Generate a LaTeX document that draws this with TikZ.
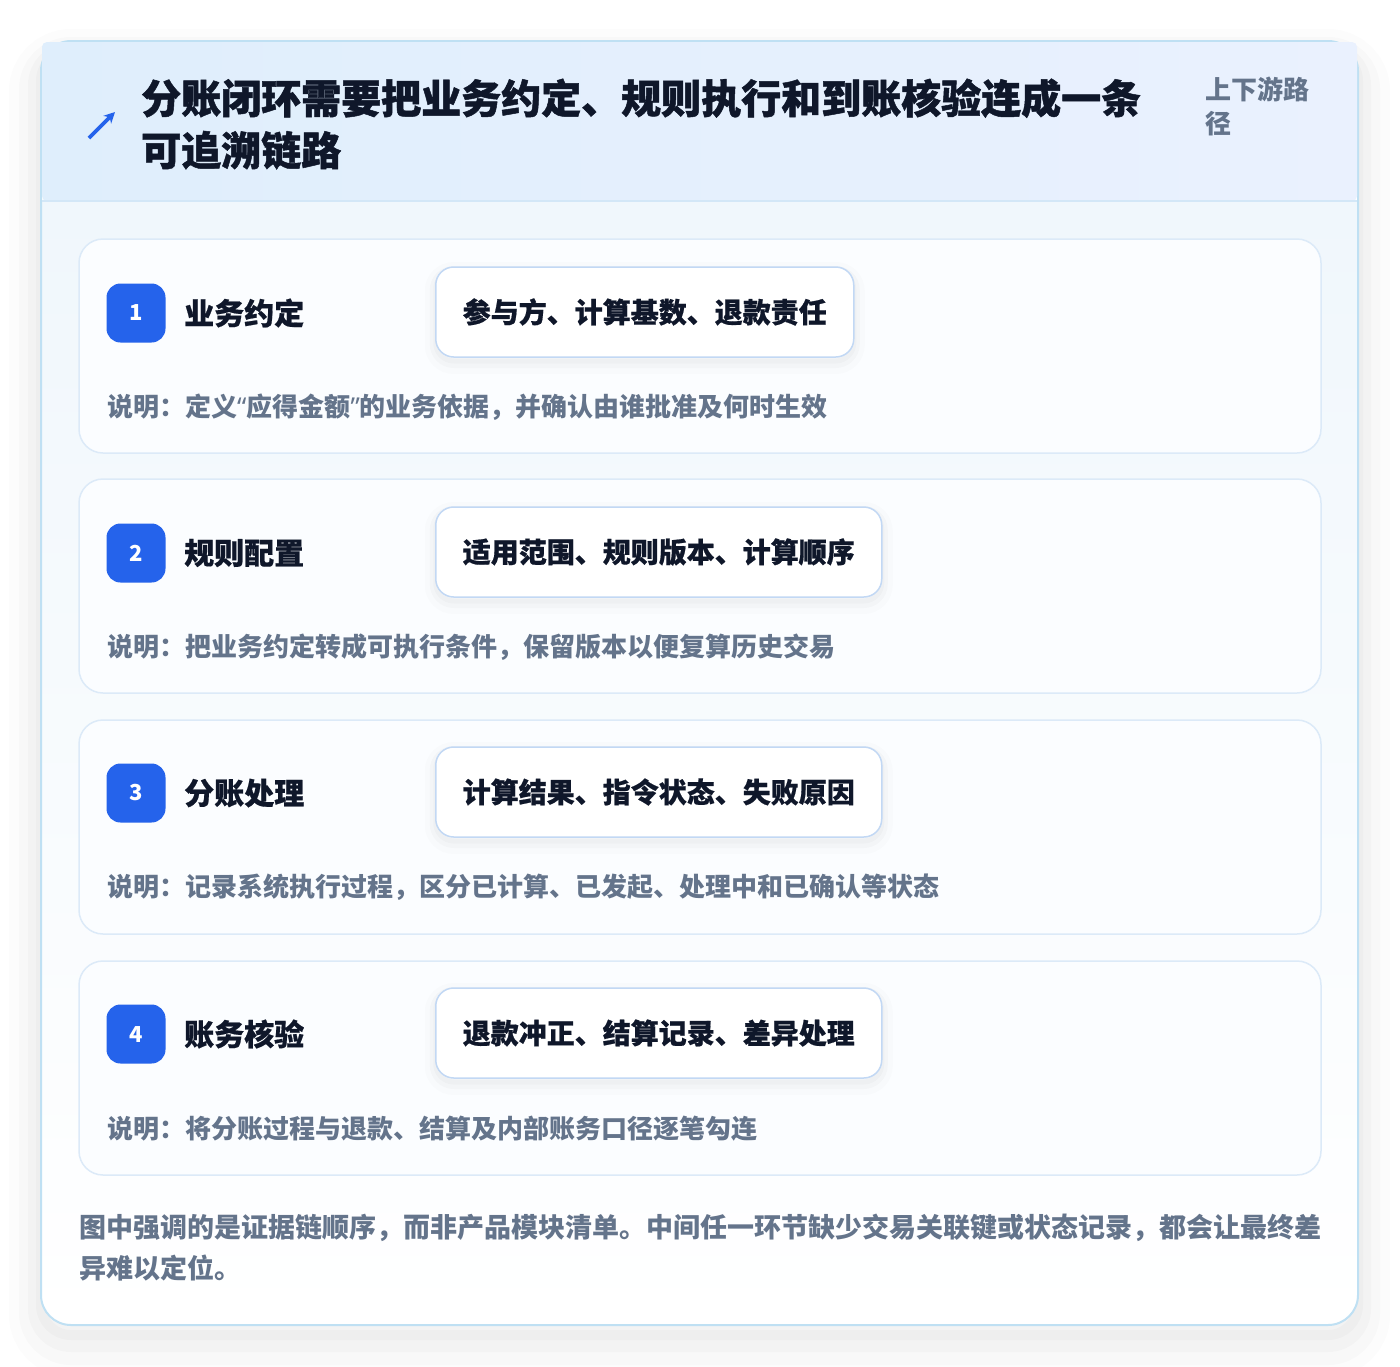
\documentclass[tikz,border=0pt]{standalone}
\usepackage{fontspec}
\setmainfont{Noto Sans CJK SC}
\newfontfamily\heavyfont{Noto Sans CJK SC}[BoldFeatures={FakeBold=1.2}]
\newfontfamily\semiheavy{Noto Sans CJK SC}[BoldFeatures={FakeBold=0.6}]
\newfontfamily\quotefont{Noto Sans}
\usetikzlibrary{shadows,arrows.meta}
\definecolor{ink}{HTML}{0F172A}
\definecolor{muted}{HTML}{64748B}
\definecolor{brand}{HTML}{2563EB}
\definecolor{rim}{HTML}{BFE0F3}
\definecolor{cardrim}{HTML}{DCEAF8}
\definecolor{tagrim}{HTML}{C2D8F4}
\definecolor{headA}{HTML}{DFEEFC}
\definecolor{headB}{HTML}{EAF1FE}
\definecolor{bodyA}{HTML}{F0F7FC}
\definecolor{headline}{HTML}{D3E7F7}
\definecolor{cardfill}{HTML}{FBFDFF}
\newcommand{\qt}[1]{{\quotefont #1}}
\begin{document}
\begin{tikzpicture}[x=1pt, y=-1pt,
  card/.style={draw=cardrim, line width=1.5pt, fill=cardfill, rounded corners=24pt, minimum width=1242pt, minimum height=214pt, inner sep=0pt},
  badge/.style={fill=brand, text=white, rounded corners=14pt, minimum size=59pt, inner sep=0pt, font=\fontsize{22}{22}\selectfont\bfseries},
  stagename/.style={anchor=west, inner sep=0pt, text=ink, font=\fontsize{30}{30}\selectfont\semiheavy\bfseries},
  tagshadow/.style={general shadow={draw=black, line width=22pt, opacity=.012, shadow yshift=-6pt},
    general shadow={draw=black, line width=12pt, opacity=.018, shadow yshift=-5pt},
    general shadow={draw=black, line width=5pt, opacity=.02, shadow yshift=-4pt}},
  tag/.style={anchor=west, draw=tagrim, line width=1.5pt, fill=white, rounded corners=18pt, minimum height=90pt, inner xsep=27pt, inner ysep=0pt, text=ink, font=\fontsize{28}{28}\selectfont\semiheavy\bfseries, tagshadow},
  desc/.style={anchor=west, inner sep=0pt, text=muted, font=\fontsize{26}{26}\selectfont\bfseries}]
\path[use as bounding box, fill=white] (0,0) rectangle (1400,1366);
% outer panel
\path[fill=white, rounded corners=30pt,
  general shadow={draw=black, line width=64pt, opacity=.012, shadow yshift=-20pt},
  general shadow={draw=black, line width=44pt, opacity=.016, shadow yshift=-18pt},
  general shadow={draw=black, line width=26pt, opacity=.02, shadow yshift=-14pt},
  general shadow={draw=black, line width=10pt, opacity=.02, shadow yshift=-10pt}] (41,41) rectangle (1358,1325);
\begin{scope}
\clip[rounded corners=30pt] (41,41) rectangle (1358,1325);
\shade[top color=bodyA, bottom color=white] (41,201) rectangle (1358,1325);
\end{scope}
\draw[rim, line width=2pt, rounded corners=30pt] (41,41) rectangle (1358,1325);
\shade[left color=headA, right color=headB, rounded corners=5pt] (42,42) rectangle (1357,201);
\draw[headline, line width=1.5pt] (42,201) -- (1357,201);
% header
\draw[brand, line width=3.6pt, -{Stealth[length=11pt, width=11pt]}] (89,138) -- (115,112);
\node[anchor=west, inner sep=0pt, align=left, text=ink, font=\fontsize{40}{52}\selectfont\heavyfont\bfseries] (headtitle) at (141,124) {分账闭环需要把业务约定、规则执行和到账核验连成一条\\可追溯链路};
\node[anchor=west, inner sep=0pt, align=left, text=muted, font=\fontsize{26}{34}\selectfont\bfseries] (pathtag) at (1205,106) {上下游路\\径};
% stages
\node[card] (card1) at (700,346) {};
\node[badge] (badge1) at (136,313) {1};
\node[stagename] (name1) at (184,313) {业务约定};
\node[tag] (tag1) at (435,312) {参与方、计算基数、退款责任};
\node[desc] (note1) at (107,407) {说明：定义\qt{“}应得金额\qt{”}的业务依据，并确认由谁批准及何时生效};
\node[card] (card2) at (700,586) {};
\node[badge] (badge2) at (136,553) {2};
\node[stagename] (name2) at (184,553) {规则配置};
\node[tag] (tag2) at (435,552) {适用范围、规则版本、计算顺序};
\node[desc] (note2) at (107,647) {说明：把业务约定转成可执行条件，保留版本以便复算历史交易};
\node[card] (card3) at (700,827) {};
\node[badge] (badge3) at (136,793) {3};
\node[stagename] (name3) at (184,793) {分账处理};
\node[tag] (tag3) at (435,792) {计算结果、指令状态、失败原因};
\node[desc] (note3) at (107,887) {说明：记录系统执行过程，区分已计算、已发起、处理中和已确认等状态};
\node[card] (card4) at (700,1068) {};
\node[badge] (badge4) at (136,1034) {4};
\node[stagename] (name4) at (184,1034) {账务核验};
\node[tag] (tag4) at (435,1033) {退款冲正、结算记录、差异处理};
\node[desc] (note4) at (107,1129) {说明：将分账过程与退款、结算及内部账务口径逐笔勾连};
% footnote
\node[anchor=west, inner sep=0pt, align=left, text=muted, font=\fontsize{27}{41}\selectfont\bfseries] (footer) at (79,1248) {图中强调的是证据链顺序，而非产品模块清单。中间任一环节缺少交易关联键或状态记录，都会让最终差\\异难以定位。};
\end{tikzpicture}
\end{document}
